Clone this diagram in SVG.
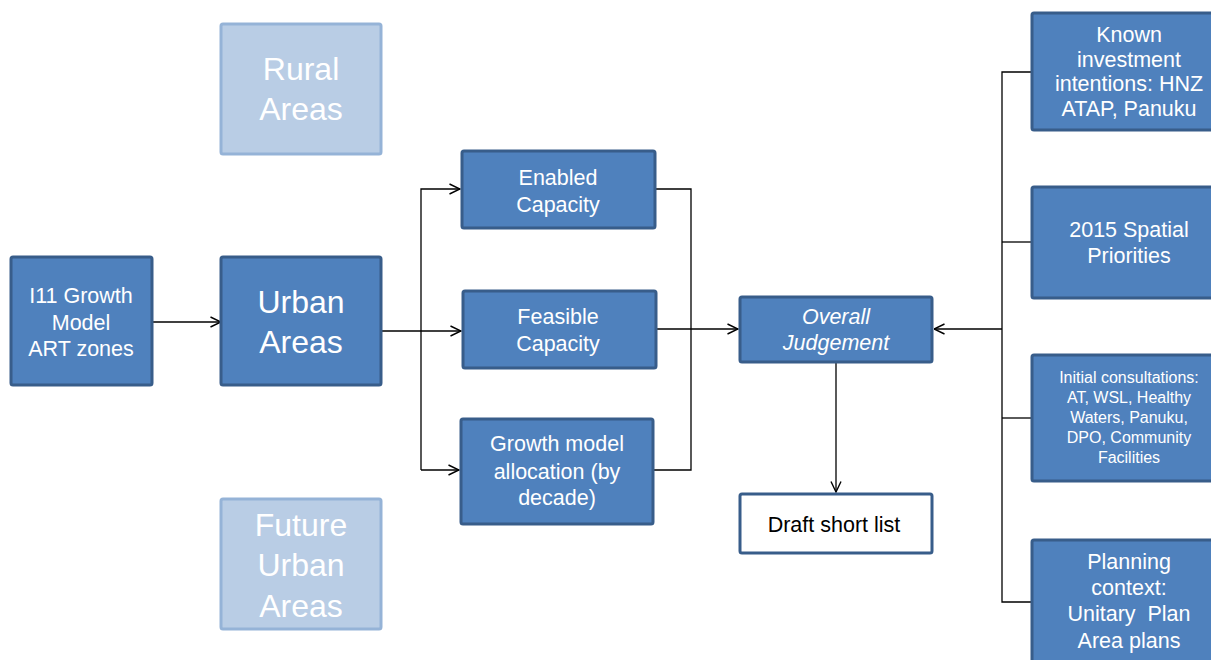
<svg xmlns="http://www.w3.org/2000/svg" width="1211" height="660" viewBox="0 0 1211 660">
<style>
.n{fill:#4F81BD;stroke:#385D8A;stroke-width:3}
.l{fill:#B9CDE5;stroke:#95B3D7;stroke-width:3}
.w{fill:#FFFFFF;stroke:#385D8A;stroke-width:3}
text{font-family:"Liberation Sans",Arial,sans-serif;text-anchor:middle;fill:#FFFFFF}
.m{font-size:21.5px}
.b{font-size:32px}
.s{font-size:16px}
.i{font-style:italic}
.k{fill:#000000}
.c{fill:none;stroke:#000000;stroke-width:1.3}
</style>
<defs>
<marker id="a" viewBox="0 0 12 12" refX="11.5" refY="6" markerWidth="12" markerHeight="12" markerUnits="userSpaceOnUse" orient="auto">
<path d="M1,1 L11.5,6 L1,11" fill="none" stroke="#000000" stroke-width="1.4"/>
</marker>
</defs>
<rect width="1211" height="660" fill="#FFFFFF"/>
<g id="connectors">
<line class="c" x1="152" y1="322" x2="221" y2="322" marker-end="url(#a)"/>
<polyline class="c" points="381,331 421,331 461,331" marker-end="url(#a)"/>
<polyline class="c" points="421,470 421,189 460,189" marker-end="url(#a)"/>
<line class="c" x1="421" y1="470" x2="459" y2="470" marker-end="url(#a)"/>
<polyline class="c" points="655,189 691,189 691,470 653,470"/>
<line class="c" x1="656" y1="329" x2="738" y2="329" marker-end="url(#a)"/>
<line class="c" x1="836" y1="362" x2="836" y2="492" marker-end="url(#a)"/>
<line class="c" x1="1002" y1="329" x2="934" y2="329" marker-end="url(#a)"/>
<polyline class="c" points="1032,72 1002,72 1002,602 1032,602"/>
<line class="c" x1="1002" y1="242" x2="1032" y2="242"/>
<line class="c" x1="1002" y1="418" x2="1032" y2="418"/>
</g>
<g id="rural">
<rect class="l" x="221" y="24" width="160" height="130" rx="2"/>
<text class="b" x="301" y="80">Rural</text>
<text class="b" x="301" y="120">Areas</text>
</g>
<g id="future">
<rect class="l" x="221" y="499" width="160" height="130" rx="2"/>
<text class="b" x="301" y="536">Future</text>
<text class="b" x="301" y="576">Urban</text>
<text class="b" x="301" y="617">Areas</text>
</g>
<g id="i11">
<rect class="n" x="11" y="257" width="141" height="128" rx="2"/>
<text class="m" x="81" y="303">I11 Growth</text>
<text class="m" x="81" y="330">Model</text>
<text class="m" x="81" y="356">ART zones</text>
</g>
<g id="urban">
<rect class="n" x="221" y="257" width="160" height="128" rx="2"/>
<text class="b" x="301" y="313">Urban</text>
<text class="b" x="301" y="353">Areas</text>
</g>
<g id="enabled">
<rect class="n" x="462" y="151" width="193" height="77" rx="2"/>
<text class="m" x="558" y="185">Enabled</text>
<text class="m" x="558" y="212">Capacity</text>
</g>
<g id="feasible">
<rect class="n" x="463" y="291" width="193" height="77" rx="2"/>
<text class="m" x="558" y="324">Feasible</text>
<text class="m" x="558" y="351">Capacity</text>
</g>
<g id="growth">
<rect class="n" x="461" y="419" width="192" height="105" rx="2"/>
<text class="m" x="557" y="451">Growth model</text>
<text class="m" x="557" y="479">allocation (by</text>
<text class="m" x="557" y="505">decade)</text>
</g>
<g id="overall">
<rect class="n" x="740" y="297" width="192" height="65" rx="2"/>
<text class="m i" x="836" y="324">Overall</text>
<text class="m i" x="836" y="350">Judgement</text>
</g>
<g id="draft">
<rect class="w" x="740" y="494" width="192" height="59" rx="2"/>
<text class="m k" x="834" y="532">Draft short list</text>
</g>
<g id="known">
<rect class="n" x="1032" y="13" width="200" height="117" rx="2"/>
<text class="m" x="1129" y="42">Known</text>
<text class="m" x="1129" y="67">investment</text>
<text class="m" x="1129" y="91">intentions: HNZ</text>
<text class="m" x="1129" y="116">ATAP, Panuku</text>
</g>
<g id="spatial">
<rect class="n" x="1032" y="187" width="200" height="111" rx="2"/>
<text class="m" x="1129" y="237">2015 Spatial</text>
<text class="m" x="1129" y="263">Priorities</text>
</g>
<g id="consult">
<rect class="n" x="1032" y="355" width="200" height="126" rx="2"/>
<text class="s" x="1129" y="383">Initial consultations:</text>
<text class="s" x="1129" y="403">AT, WSL, Healthy</text>
<text class="s" x="1129" y="423">Waters, Panuku,</text>
<text class="s" x="1129" y="443">DPO, Community</text>
<text class="s" x="1129" y="463">Facilities</text>
</g>
<g id="planning">
<rect class="n" x="1032" y="540" width="200" height="140" rx="2"/>
<text class="m" x="1129" y="569">Planning</text>
<text class="m" x="1129" y="595">context:</text>
<text class="m" x="1129" y="621">Unitary&#160; Plan</text>
<text class="m" x="1129" y="648">Area plans</text>
</g>
</svg>
